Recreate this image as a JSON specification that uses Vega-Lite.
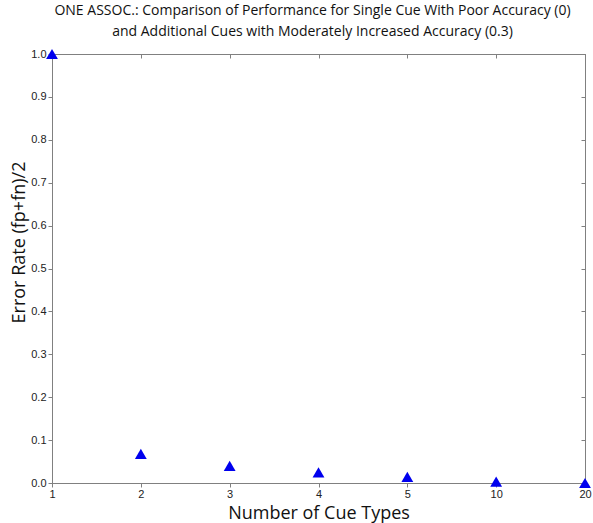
{
  "$schema": "https://vega.github.io/schema/vega-lite/v6.json",
  "width": 533,
  "height": 429,
  "autosize": {"type": "none"},
  "padding": {"left": 52, "top": 54, "right": 8, "bottom": 40},
  "background": "white",
  "title": {
    "text": ["ONE ASSOC.: Comparison of Performance for Single Cue With Poor Accuracy (0)", "and Additional Cues with Moderately Increased Accuracy (0.3)"],
    "font": "Open Sans",
    "fontSize": 14,
    "fontWeight": "normal",
    "color": "#111",
    "anchor": "middle",
    "dx": -6,
    "lineHeight": 21,
    "offset": 9
  },
  "config": {
    "view": {"stroke": "#808080", "strokeWidth": 1},
    "axis": {"domainColor": "#808080", "tickColor": "#808080", "grid": false, "labelFont": "Liberation Sans", "labelFontSize": 11, "labelColor": "#222", "titleFont": "Open Sans", "titleFontWeight": "normal", "titleFontSize": 18, "titleColor": "#111"}
  },
  "data": {"values": [
    {"cues": "1", "error": 1.0},
    {"cues": "2", "error": 0.068},
    {"cues": "3", "error": 0.04},
    {"cues": "4", "error": 0.025},
    {"cues": "5", "error": 0.014},
    {"cues": "10", "error": 0.003},
    {"cues": "20", "error": 0.0}
  ]},
  "layer": [
    {
      "mark": {"type": "point", "opacity": 0},
      "encoding": {
        "x": {"field": "cues", "type": "ordinal", "sort": null, "scale": {"type": "point", "padding": 0},
              "axis": {"orient": "top", "title": null, "labels": false, "tickSize": -4}},
        "y": {"field": "error", "type": "quantitative", "scale": {"domain": [0, 1], "nice": false},
              "axis": {"orient": "right", "title": null, "labels": false, "values": [0, 0.1, 0.2, 0.3, 0.4, 0.5, 0.6, 0.7, 0.8, 0.9, 1], "tickSize": -4}}
      }
    },
    {
      "mark": {"type": "point", "shape": "triangle-up", "filled": true, "color": "#0000ee", "opacity": 1, "size": 140},
      "encoding": {
        "x": {"field": "cues", "type": "ordinal", "sort": null, "scale": {"type": "point", "padding": 0},
              "axis": {"title": "Number of Cue Types", "labelAngle": 0, "tickSize": 4, "labelPadding": 1, "titlePadding": 5}},
        "y": {"field": "error", "type": "quantitative", "scale": {"domain": [0, 1], "nice": false},
              "axis": {"title": "Error Rate (fp+fn)/2", "values": [0, 0.1, 0.2, 0.3, 0.4, 0.5, 0.6, 0.7, 0.8, 0.9, 1], "tickSize": 4, "labelPadding": 2, "titleY": 188, "titleX": -24}}
      }
    }
  ],
  "resolve": {"axis": {"x": "independent", "y": "independent"}}
}
